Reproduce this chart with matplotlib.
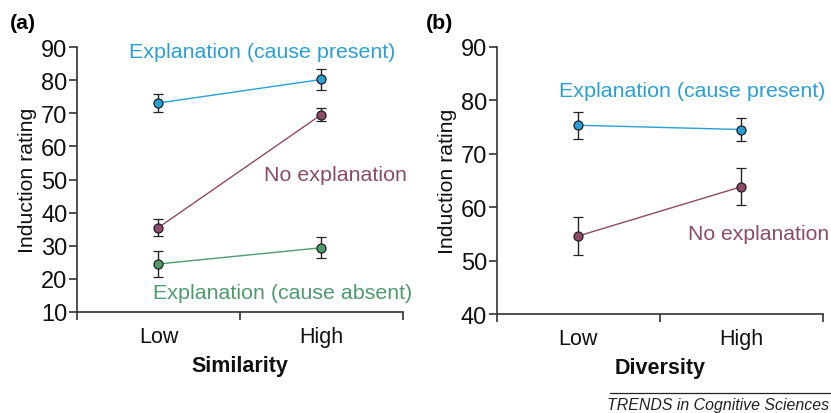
import matplotlib
matplotlib.use("Agg")
import matplotlib.pyplot as plt

plt.rcParams['font.family'] = ['Liberation Sans', 'DejaVu Sans']

# data
levels = ['Low', 'High']

sim_present = [73.1, 80.2]
sim_present_err = [2.8, 3.1]
sim_none = [35.5, 69.6]
sim_none_err = [2.6, 2.0]
sim_absent = [24.5, 29.4]
sim_absent_err = [4.0, 3.2]

div_present = [75.3, 74.5]
div_present_err = [2.5, 2.1]
div_none = [54.6, 63.8]
div_none_err = [3.5, 3.5]

blue = '#2a9fd6'
purple = '#8c4a68'
green = '#4f9a6e'
axcol = '#333333'

fig = plt.figure(figsize=(8.31, 4.14), dpi=100)
ax1 = fig.add_axes([0.0927, 0.244, 0.392, 0.640])
ax2 = fig.add_axes([0.598, 0.239, 0.392, 0.646])


def series(ax, y, err, col):
    ax.errorbar([0, 1], y, yerr=err, color=col, lw=1.0, marker='o', ms=6.5,
                mfc=col, mec='#222222', mew=0.9, ecolor='#222222', elinewidth=1.0,
                capsize=3.5, capthick=1.0, clip_on=False, zorder=3)


def style(ax, ylo, yhi, step, xlabel):
    ax.set_xlim(-0.5, 1.5)
    ax.set_ylim(ylo, yhi)
    ax.set_yticks(range(ylo, yhi + 1, step))
    ax.set_xticks([0, 1])
    ax.set_xticklabels(levels)
    ax.set_xticks([-0.5, 0.5, 1.5], minor=True)
    ax.tick_params(axis='x', which='major', length=0, labelsize=15.5, pad=10, colors='#111111')
    ax.tick_params(axis='x', which='minor', length=6, width=1.2, color=axcol, direction='out')
    ax.tick_params(axis='y', length=6, width=1.2, color=axcol, labelsize=17, pad=1, labelcolor='#111111')
    for s in ['top', 'right']:
        ax.spines[s].set_visible(False)
    for s in ['left', 'bottom']:
        ax.spines[s].set_color(axcol)
        ax.spines[s].set_linewidth(1.2)
    ax.set_ylabel('Induction rating', fontsize=15.3, labelpad=3, color='#111111')
    ax.set_xlabel(xlabel, fontsize=15.5, fontweight='bold', labelpad=6, color='#111111')


series(ax1, sim_present, sim_present_err, blue)
series(ax1, sim_none, sim_none_err, purple)
series(ax1, sim_absent, sim_absent_err, green)
style(ax1, 10, 90, 10, 'Similarity')
ax1.text(-0.181, 88.5, 'Explanation (cause present)', color=blue, fontsize=15.4,
         ha='left', va='center', clip_on=False)
ax1.text(0.647, 51.6, 'No explanation', color=purple, fontsize=15.4,
         ha='left', va='center', clip_on=False)
ax1.text(-0.034, 16.0, 'Explanation (cause absent)', color=green, fontsize=15.4,
         ha='left', va='center', clip_on=False)

series(ax2, div_present, div_present_err, blue)
series(ax2, div_none, div_none_err, purple)
style(ax2, 40, 90, 10, 'Diversity')
ax2.text(-0.12, 81.8, 'Explanation (cause present)', color=blue, fontsize=15.4,
         ha='left', va='center', clip_on=False)
ax2.text(0.672, 55.0, 'No explanation', color=purple, fontsize=15.2,
         ha='left', va='center', clip_on=False)

fig.text(0.012, 0.944, '(a)', fontsize=15.4, fontweight='bold', ha='left', va='center')
fig.text(0.513, 0.944, '(b)', fontsize=15.4, fontweight='bold', ha='left', va='center')

fig.add_artist(plt.Line2D([610 / 831, 830 / 831], [1 - 394 / 414, 1 - 394 / 414],
                          color='#222222', lw=0.9))
fig.text(0.998, 0.003, 'TRENDS in Cognitive Sciences', fontsize=11.4, style='italic',
         ha='right', va='bottom', color='#222222')

fig.savefig('out.png', dpi=100)
